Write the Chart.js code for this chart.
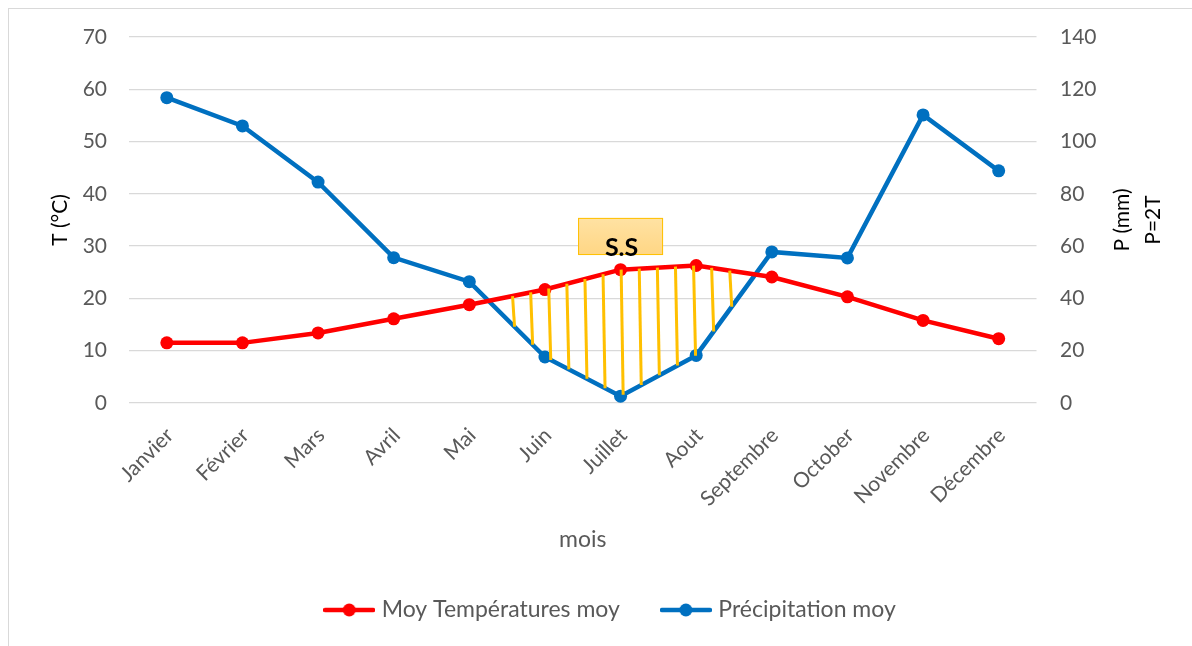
<!DOCTYPE html>
<html>
<head>
<meta charset="utf-8">
<title>Diagramme ombrothermique</title>
<script src="https://cdn.jsdelivr.net/npm/chart.js@4.4.1/dist/chart.umd.min.js"></script>
<style>
  html, body { margin: 0; padding: 0; background: #fff; overflow: hidden; }
  #frame { position: absolute; left: 8px; top: 8px; width: 1400px; height: 900px; border: 1px solid #d9d9d9; }
  #chart { position: absolute; left: 0; top: 0; }
</style>
</head>
<body>
<div id="frame"></div>
<canvas id="chart" width="1192" height="646"></canvas>
<script>
// données
const mois = ["Janvier", "Février", "Mars", "Avril", "Mai", "Juin", "Juillet", "Aout", "Septembre", "October", "Novembre", "Décembre"];
const temperatures = [11.5, 11.5, 13.4, 16.1, 18.8, 21.7, 25.5, 26.3, 24.1, 20.3, 15.8, 12.3];
const precipitations = [116.8, 106, 84.5, 55.6, 46.4, 17.6, 2.6, 18.2, 57.8, 55.5, 110.2, 88.8];
const axeT = { min: 0, max: 70, pas: 10 };
const axeP = { min: 0, max: 140, pas: 20 };

const ROUGE = "#FF0000";
const BLEU = "#0070C0";
const JAUNE = "#FFC000";
const GRIS = "#595959";
const POLICE = "Lato";

Chart.defaults.font.family = POLICE;

// petit symbole ligne + point pour la légende
function symboleLegende(couleur) {
  const c = document.createElement("canvas");
  c.width = 52; c.height = 14;
  const g = c.getContext("2d");
  g.strokeStyle = couleur; g.lineWidth = 4.5; g.lineCap = "round";
  g.beginPath(); g.moveTo(2, 7); g.lineTo(50, 7); g.stroke();
  g.fillStyle = couleur;
  g.beginPath(); g.arc(26, 7, 6.5, 0, Math.PI * 2); g.fill();
  return c;
}

function yLigne(meta, x) {
  const pts = meta.data;
  for (let i = 0; i < pts.length - 1; i++) {
    const a = pts[i], b = pts[i + 1];
    if (x >= a.x && x <= b.x) return a.y + (b.y - a.y) * (x - a.x) / (b.x - a.x);
  }
  return null;
}

// hachures de la saison sèche (P < 2T) + étiquette S.S
const saisonSeche = {
  id: "saisonSeche",
  afterDatasetsDraw(chart) {
    const ctx = chart.ctx;
    const mT = chart.getDatasetMeta(0), mP = chart.getDatasetMeta(1);
    const d = precipitations.map((p, i) => p - 2 * temperatures[i]);
    const croisements = [];
    for (let i = 0; i < d.length - 1; i++) {
      if ((d[i] >= 0) !== (d[i + 1] >= 0)) {
        const f = d[i] / (d[i] - d[i + 1]);
        croisements.push(mT.data[i].x + f * (mT.data[i + 1].x - mT.data[i].x));
      }
    }
    if (croisements.length >= 2) {
      const [c1, c2] = croisements;
      ctx.save();
      ctx.strokeStyle = JAUNE;
      ctx.lineWidth = 3;
      for (let x = c1 + 24; x <= c2 - 20; x += 18.1) {
        const y1 = yLigne(mT, x), y2 = yLigne(mP, x + 2);
        if (y1 == null || y2 == null) continue;
        ctx.beginPath(); ctx.moveTo(x, y1); ctx.lineTo(x + 2, y2); ctx.stroke();
      }
      ctx.restore();
    }

    // boîte S.S au-dessus de juillet
    const xs = chart.scales.x, yT = chart.scales.yT;
    const cx = xs.getPixelForValue(6);
    const haut = yT.getPixelForValue(35.4), bas = yT.getPixelForValue(28.3);
    const l = 85;
    ctx.save();
    const grad = ctx.createLinearGradient(0, haut, 0, bas);
    grad.addColorStop(0, "#FFE2A3");
    grad.addColorStop(1, "#FFD684");
    ctx.fillStyle = grad;
    ctx.fillRect(cx - l / 2, haut, l, bas - haut);
    ctx.strokeStyle = JAUNE; ctx.lineWidth = 1;
    ctx.strokeRect(cx - l / 2 + 0.5, haut + 0.5, l - 1, bas - haut - 1);
    ctx.fillStyle = "#000";
    ctx.font = "bold 25px " + POLICE;
    ctx.textAlign = "center"; ctx.textBaseline = "alphabetic";
    ctx.fillText("S.S", cx + 1, bas + 0.5);
    ctx.restore();
  },
  afterDraw(chart) {
    // titre de l'axe droit sur deux lignes, lu de bas en haut
    const ctx = chart.ctx, a = chart.chartArea;
    const yc = (a.top + a.bottom) / 2;
    ctx.save();
    ctx.fillStyle = "#000";
    ctx.font = "21px " + POLICE;
    ctx.textAlign = "center"; ctx.textBaseline = "middle";
    [["P (mm)", 1122], ["P=2T", 1153]].forEach(([t, x]) => {
      ctx.save(); ctx.translate(x, yc); ctx.rotate(-Math.PI / 2);
      ctx.fillText(t, 0, 0); ctx.restore();
    });
    ctx.restore();
  }
};

new Chart(document.getElementById("chart"), {
  type: "line",
  data: {
    labels: mois,
    datasets: [
      {
        label: "Moy Températures moy",
        data: temperatures,
        yAxisID: "yT",
        borderColor: ROUGE, backgroundColor: ROUGE,
        borderWidth: 4.5, pointRadius: 6.5, pointBorderWidth: 0,
        pointBackgroundColor: ROUGE, tension: 0
      },
      {
        label: "Précipitation moy",
        data: precipitations,
        yAxisID: "yP",
        borderColor: BLEU, backgroundColor: BLEU,
        borderWidth: 4.5, pointRadius: 6.5, pointBorderWidth: 0,
        pointBackgroundColor: BLEU, tension: 0
      }
    ]
  },
  options: {
    responsive: false,
    animation: false,
    layout: { padding: { left: 32, right: 0, top: 37, bottom: 14.5 } },
    plugins: {
      tooltip: { enabled: false },
      legend: {
        position: "bottom",
        labels: {
          usePointStyle: true,
          pointStyleWidth: 42,
          padding: 45,
          color: GRIS,
          font: { size: 23 },
          generateLabels(chart) {
            return chart.data.datasets.map((ds, i) => ({
              text: ds.label,
              pointStyle: symboleLegende(ds.borderColor),
              fillStyle: ds.borderColor,
              strokeStyle: ds.borderColor,
              lineWidth: 0,
              fontColor: GRIS,
              hidden: false,
              datasetIndex: i
            }));
          }
        }
      }
    },
    scales: {
      x: {
        offset: true,
        grid: { display: false, drawTicks: false, offset: true },
        border: { display: false },
        ticks: { color: GRIS, font: { size: 21 }, minRotation: 45, maxRotation: 45, autoSkip: false, padding: 20, labelOffset: 3 },
        title: { display: true, text: "mois", color: GRIS, font: { size: 23 }, padding: { top: 0, bottom: 0 } },
        afterFit(s) { s.height = 150.5; }
      },
      yT: {
        position: "left",
        min: axeT.min, max: axeT.max,
        ticks: { stepSize: axeT.pas, color: GRIS, font: { size: 21 }, padding: 22 },
        grid: { color: "#d9d9d9", lineWidth: 1.3, drawTicks: false },
        border: { display: false },
        title: { display: true, text: "T (°C)", color: "#000", font: { size: 21 }, padding: { top: 15.4, bottom: 0 } },
        afterFit(s) { s.width = 97; }
      },
      yP: {
        position: "right",
        min: axeP.min, max: axeP.max,
        ticks: { stepSize: axeP.pas, color: GRIS, font: { size: 21 }, padding: 23.5 },
        grid: { display: false, drawTicks: false },
        border: { display: false },
        afterFit(s) { s.width = 155.5; }
      }
    }
  },
  plugins: [saisonSeche]
});
</script>
</body>
</html>
